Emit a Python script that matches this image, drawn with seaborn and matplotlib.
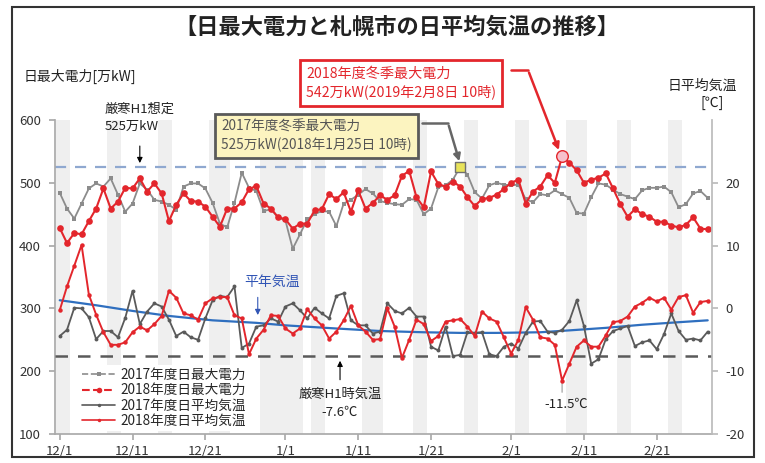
import numpy as np
import pandas as pd
import matplotlib
matplotlib.use("Agg")
import matplotlib.pyplot as plt
import seaborn as sns
from matplotlib.lines import Line2D
from matplotlib.patches import Rectangle

# ---------------- data ----------------
days = list(range(90))  # 0 = 12/1 ... 89 = 2/28
tick_days = [0, 10, 20, 31, 41, 51, 62, 72, 82]
tick_labels = ["12/1", "12/11", "12/21", "1/1", "1/11", "1/21", "2/1", "2/11", "2/21"]
holiday_days = [0, 1, 7, 8, 14, 15, 21, 22, 23, 28, 29, 30, 31, 32, 33, 35, 36,
                42, 43, 44, 49, 50, 56, 57, 63, 64, 70, 71, 72, 77, 78, 84, 85]

power_2017 = [484, 459, 443, 467, 491, 499, 494, 507, 481, 454,
              467, 499, 489, 473, 470, 465, 457, 494, 499, 499,
              491, 468, 435, 429, 468, 516, 492, 487, 455, 458,
              445, 440, 395, 418, 442, 450, 455, 454, 431, 467,
              473, 481, 490, 483, 471, 468, 466, 465, 474, 473,
              450, 459, 493, 496, 505, 525, 513, 485, 475, 496,
              500, 497, 496, 497, 474, 469, 482, 480, 488, 482,
              476, 452, 451, 477, 499, 497, 489, 482, 478, 474,
              488, 492, 492, 494, 485, 461, 466, 483, 487, 476]
power_2018 = [428, 404, 420, 418, 439, 459, 491, 459, 470, 492,
              491, 507, 486, 499, 483, 439, 465, 483, 471, 470,
              462, 446, 430, 459, 459, 469, 490, 495, 467, 459,
              445, 442, 427, 435, 435, 456, 458, 482, 474, 485,
              454, 488, 459, 468, 480, 473, 480, 511, 519, 477,
              461, 518, 498, 494, 502, 494, 477, 463, 474, 476,
              481, 490, 500, 505, 467, 486, 494, 512, 500, 542,
              532, 520, 500, 505, 508, 515, 491, 466, 446, 458,
              450, 446, 438, 438, 432, 429, 433, 445, 427, 426]
temp_2017 = [-4.4, -3.4, 0.1, 0.0, -1.4, -4.9, -3.6, -3.6, -4.6, -1.5,
             2.8, -2.5, -0.5, 0.8, 0.3, -1.8, -4.4, -3.7, -4.6, -5.0,
             -1.6, 1.3, 2.0, 1.8, 3.5, -6.3, -5.6, -2.9, -2.7, -1.6,
             -2.1, 0.3, 0.8, -0.3, -1.6, 0.1, -0.8, -1.6, 2.0, 2.4,
             -1.9, -2.7, -2.7, -4.0, -3.7, 0.8, -0.4, -0.8, 0.1, -1.3,
             -1.3, -6.1, -6.7, -2.9, -7.6, -7.4, -3.8, -3.9, -3.8, -7.3,
             -7.6, -6.1, -5.6, -6.4, -3.9, -2.1, -2.0, -3.7, -3.9, -3.4,
             -2.0, 1.3, -2.8, -8.8, -8.1, -4.9, -3.6, -3.2, -2.8, -6.0,
             -5.4, -5.1, -6.5, -4.1, -0.8, -3.6, -5.0, -4.8, -5.1, -3.7]
temp_2018 = [-0.3, 3.5, 6.8, 10.1, 2.2, -1.0, -3.8, -5.8, -5.8, -5.4,
             -3.8, -2.9, -3.5, -2.5, -1.2, 2.8, 1.7, -0.8, -1.1, -1.8,
             0.8, 1.6, 1.8, 1.8, -1.1, -1.6, -7.3, -4.8, -3.4, -1.1,
             -1.2, -3.2, -4.0, -3.2, -0.1, -1.6, -2.7, -4.8, -3.7, -1.9,
             0.4, -2.7, -3.7, -5.0, -4.9, 0.0, -2.9, -7.9, -5.0, -1.8,
             -2.5, -5.2, -4.4, -2.1, -1.9, -1.7, -2.9, -4.4, -0.5, -1.6,
             -2.1, -4.6, -7.2, -5.0, 0.2, -1.8, -4.6, -4.8, -5.8, -11.5,
             -8.8, -6.1, -5.1, -6.1, -6.1, -4.3, -2.2, -2.0, -1.3, 0.3,
             0.9, 1.7, 1.1, 1.7, -0.2, 1.8, 2.1, -0.7, 1.0, 1.2]
normal_days = [0, 5, 10, 15, 21, 27, 31, 38, 44, 50, 55, 60, 66, 70, 75, 80, 85, 89]
normal_temp = [1.3, 0.5, -0.4, -1.2, -1.9, -2.3, -2.7, -3.2, -3.6, -3.8,
               -3.9, -3.9, -3.8, -3.5, -3.1, -2.6, -2.2, -1.9]

h1_power = 525
h1_temp = -7.6
max2017_day, max2017 = 55, 525
max2018_day, max2018 = 69, 542
min2018_day, min2018_temp = 69, -11.5

df = pd.DataFrame({"day": days, "p17": power_2017, "p18": power_2018,
                   "t17": temp_2017, "t18": temp_2018})
dfn = pd.DataFrame({"day": normal_days, "tn": normal_temp})

# ---------------- style ----------------
sns.set_theme(style="white")
plt.rcParams['font.family'] = ['Noto Sans CJK JP', 'DejaVu Sans']
plt.rcParams['axes.unicode_minus'] = False

W, H = 765, 463
def F(x, y):
    return (x / W, 1 - y / H)

fig = plt.figure(figsize=(7.65, 4.63), dpi=100)
ax = fig.add_axes([55 / W, 1 - 434 / H, (711.7 - 55) / W, (434 - 120) / H])
ax2 = ax.twinx()

RED = '#e3262c'
GRAY = '#8c8c8c'
DGRAY = '#5a5a5a'
BLUE = '#2f6fbf'

# weekend / holiday bands
runs = []
start = prev = holiday_days[0]
for d in holiday_days[1:]:
    if d == prev + 1:
        prev = d
    else:
        runs.append((start, prev))
        start = prev = d
runs.append((start, prev))
for a, b in runs:
    ax.axvspan(a - 0.45, b + 0.45, color='#efefef', lw=0, zorder=0)

# reference lines
ax.axhline(h1_power, color='#8fa8d0', lw=1.6, ls=(0, (5, 4)), zorder=1)
ax2.axhline(h1_temp, color='#5a5a5a', lw=1.8, ls=(0, (5, 4)), zorder=1)

# power series
sns.lineplot(data=df, x="day", y="p17", ax=ax, color=GRAY, lw=1.3, marker='s',
             markersize=2.8, markeredgewidth=0, errorbar=None, zorder=3, legend=False)
sns.lineplot(data=df, x="day", y="p18", ax=ax, color=RED, lw=1.5, marker='o',
             markersize=4.8, markeredgewidth=0, errorbar=None, zorder=4, legend=False)
sns.scatterplot(x=[max2017_day], y=[max2017], ax=ax, marker='s', s=55,
                color='#e8e35a', edgecolor='#707070', linewidth=1, zorder=6, legend=False)
sns.scatterplot(x=[max2018_day], y=[max2018], ax=ax, marker='o', s=70,
                color='#f6c0cc', edgecolor=RED, linewidth=1, zorder=6, legend=False)

# temperature series
sns.lineplot(data=dfn, x="day", y="tn", ax=ax2, color=BLUE, lw=1.6,
             errorbar=None, zorder=2, legend=False)
sns.lineplot(data=df, x="day", y="t17", ax=ax2, color=DGRAY, lw=1.3, marker='o',
             markersize=2.8, markeredgewidth=0, errorbar=None, zorder=3, legend=False)
sns.lineplot(data=df, x="day", y="t18", ax=ax2, color=RED, lw=1.4, marker='o',
             markersize=3.2, markeredgewidth=0, errorbar=None, zorder=4, legend=False)

# axes
ax.set_xlim(-0.65, 89.55)
ax.set_ylim(100, 600)
ax2.set_ylim(-20, 30)
ax.set_yticks([100, 200, 300, 400, 500, 600])
ax2.set_yticks([-20, -10, 0, 10, 20])
ax.set_xticks(tick_days)
ax.set_xticklabels(tick_labels)
ax.set_xlabel("")
ax.set_ylabel("")
ax2.set_ylabel("")
for a in (ax, ax2):
    a.grid(False)
    a.spines['top'].set_visible(False)
    a.tick_params(labelsize=9.5, colors='#333333')
ax.spines['left'].set_color('#aaaaaa')
ax.spines['bottom'].set_color('#aaaaaa')
ax.spines['right'].set_visible(False)
ax2.spines['left'].set_visible(False)
ax2.spines['bottom'].set_visible(False)
ax2.spines['right'].set_color('#bbbbbb')
ax.tick_params(axis='y', length=4, color='#aaaaaa', left=True, pad=6)
ax.tick_params(axis='x', length=4, color='#aaaaaa', bottom=True, pad=4)
ax2.tick_params(axis='y', length=4, color='#bbbbbb', right=True, pad=6)
ax.set_zorder(1)
ax2.set_zorder(2)
ax.patch.set_visible(True)
ax.patch.set_facecolor('white')
ax2.patch.set_visible(False)

# legend
h17p = Line2D([], [], color=GRAY, lw=1.2, ls='--', marker='s', ms=2.5, mew=0)
h18p = Line2D([], [], color=RED, lw=1.5, ls='--', marker='o', ms=4, mew=0)
h17t = Line2D([], [], color=DGRAY, lw=1.2, marker='o', ms=2.5, mew=0)
h18t = Line2D([], [], color=RED, lw=1.2, marker='o', ms=2.5, mew=0)
leg = fig.legend([h17p, h18p, h17t, h18t],
                 ["2017年度日最大電力", "2018年度日最大電力", "2017年度日平均気温", "2018年度日平均気温"],
                 loc='upper left', bbox_to_anchor=F(72, 358), bbox_transform=fig.transFigure,
                 fontsize=9.8, frameon=True, framealpha=1, facecolor='white', edgecolor='none',
                 handlelength=2.4, handletextpad=0.4, labelspacing=0.08, borderpad=0.25)
leg.set_zorder(10)

# ---------------- texts & annotations ----------------
fig.text(*F(397, 27), "【日最大電力と札幌市の日平均気温の推移】", ha='center', va='center',
         fontsize=16, fontweight='bold', color='#222222')
fig.text(*F(24, 76), "日最大電力[万kW]", ha='left', va='center', fontsize=10, color='#222222')
fig.text(*F(702, 86), "日平均気温", ha='center', va='center', fontsize=10, color='#222222')
fig.text(*F(712, 103), "[℃]", ha='center', va='center', fontsize=10, color='#222222')

fig.text(*F(105, 118), "厳寒H1想定\n525万kW", ha='left', va='center', fontsize=9.5,
         color='#222222', linespacing=1.35)
ax.annotate('', xy=(11, 527), xytext=(11, 563),
            arrowprops=dict(arrowstyle='-|>', color='black', lw=0.8, mutation_scale=8))

fig.text(*F(221, 136), "2017年度冬季最大電力\n525万kW(2018年1月25日 10時)", ha='left', va='center',
         fontsize=9.8, color='#555555', linespacing=1.3,
         bbox=dict(boxstyle='square,pad=0.45', fc='#fcf4c0', ec='#5a5a5a', lw=2))
fig.add_artist(Line2D([422 / W, 448 / W], [1 - 123 / H, 1 - 123 / H], color='#666666', lw=1.8))
ax.annotate('', xy=(max2017_day, max2017 + 5), xycoords='data',
            xytext=F(448, 123), textcoords='figure fraction',
            arrowprops=dict(arrowstyle='-|>', color='#666666', lw=1.8, mutation_scale=10))

fig.text(*F(306, 83), "2018年度冬季最大電力\n542万kW(2019年2月8日 10時)", ha='left', va='center',
         fontsize=10.2, color=RED, linespacing=1.3,
         bbox=dict(boxstyle='square,pad=0.45', fc='white', ec=RED, lw=2))
fig.add_artist(Line2D([511 / W, 528 / W], [1 - 70 / H, 1 - 70 / H], color=RED, lw=1.8))
ax.annotate('', xy=(max2018_day - 0.3, max2018 + 6), xycoords='data',
            xytext=F(528, 70), textcoords='figure fraction',
            arrowprops=dict(arrowstyle='-|>', color=RED, lw=1.8, mutation_scale=10))

fig.text(*F(272, 282), "平年気温", ha='center', va='center', fontsize=10, color='#3155b5')
ax2.annotate('', xy=(27.2, -1.5), xytext=(27.2, 2.2),
             arrowprops=dict(arrowstyle='-|>', color='#3155b5', lw=0.8, mutation_scale=8))

fig.text(*F(340, 403), "厳寒H1時気温\n-7.6℃", ha='center', va='center', fontsize=9.5,
         color='#222222', linespacing=1.5)
ax2.annotate('', xy=(38.5, -7.9), xytext=(38.5, -11.8),
             arrowprops=dict(arrowstyle='-|>', color='black', lw=0.8, mutation_scale=8))

fig.text(*F(566, 404), "-11.5℃", ha='center', va='center', fontsize=9.5, color='#222222')
ax2.annotate('', xy=(min2018_day, min2018_temp), xytext=(min2018_day, -13.8),
             arrowprops=dict(arrowstyle='-', color='#999999', lw=0.8))

# figure frame
fig.add_artist(Rectangle((12 / W, 1 - 457 / H), (754 - 12) / W, (457 - 7) / H,
                         transform=fig.transFigure, fill=False, ec='#333333', lw=1.5))

fig.savefig("out.png", dpi=100)
